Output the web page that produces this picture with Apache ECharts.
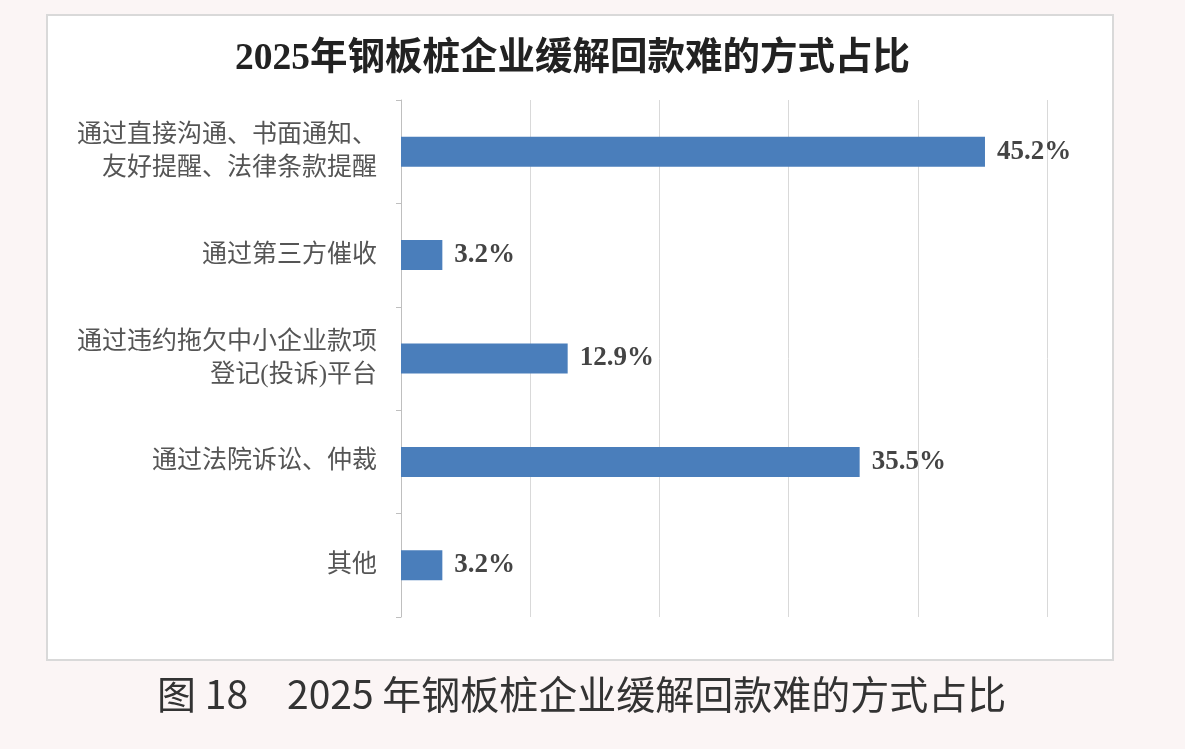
<!DOCTYPE html>
<html>
<head>
<meta charset="utf-8">
<title>2025年钢板桩企业缓解回款难的方式占比</title>
<script src="https://cdn.jsdelivr.net/npm/echarts@6/dist/echarts.min.js"></script>
<style>
	html,body{margin:0;padding:0;background:#fbf5f5;}
	#main{width:1185px;height:749px;}
</style>
</head>
<body>
<div id="main"></div>
<script>
// 数据
var categories = [
	'通过直接沟通、书面通知、\n友好提醒、法律条款提醒',
	'通过第三方催收',
	'通过违约拖欠中小企业款项\n登记(投诉)平台',
	'通过法院诉讼、仲裁',
	'其他'
];
var values = [45.2, 3.2, 12.9, 35.5, 3.2];
var axisMax = 50;
var axisStep = 10;

var chartTitle = '2025年钢板桩企业缓解回款难的方式占比';
var captionNo = '图 18';
var captionText = '2025 年钢板桩企业缓解回款难的方式占比';

var serif = '"Liberation Serif","Noto Sans CJK SC",serif';
var sans = '"Noto Sans CJK SC",sans-serif';

var myChart = echarts.init(document.getElementById('main'));
var option = {
	backgroundColor: '#fbf5f5',
	animation: false,
	graphic: [
		{
			type: 'rect',
			z: -10,
			shape: {x: 47, y: 15, width: 1066, height: 645},
			style: {fill: '#ffffff', stroke: '#d9d9d9', lineWidth: 2}
		}
	],
	title: [
		{
			text: chartTitle,
			left: 230,
			top: 36,
			textStyle: {fontFamily: serif, fontSize: 37.5, fontWeight: 'bold', color: '#222'}
		},
		{
			text: captionNo,
			left: 152,
			top: 670,
			textStyle: {fontFamily: sans, fontSize: 39, fontWeight: 'normal', color: '#333'}
		},
		{
			text: captionText,
			left: 282,
			top: 670,
			textStyle: {fontFamily: sans, fontSize: 39, fontWeight: 'normal', color: '#333'}
		}
	],
	grid: {
		left: 401,
		right: 138,
		top: 100,
		bottom: 132
	},
	xAxis: {
		type: 'value',
		min: 0,
		max: axisMax,
		interval: axisStep,
		axisLine: {show: false},
		axisTick: {show: false},
		axisLabel: {show: false},
		splitLine: {lineStyle: {color: '#d9d9d9', width: 1}}
	},
	yAxis: {
		type: 'category',
		inverse: true,
		data: categories,
		axisLine: {lineStyle: {color: '#bfbfbf', width: 1}},
		axisTick: {show: true, length: 5, lineStyle: {color: '#bfbfbf'}},
		axisLabel: {
			margin: 24,
			fontFamily: serif,
			fontSize: 25,
			lineHeight: 33,
			color: '#555',
			align: 'right'
		}
	},
	series: [
		{
			type: 'bar',
			data: values,
			barWidth: 30,
			itemStyle: {color: '#4a7ebb'},
			label: {
				show: true,
				position: 'right',
				distance: 12,
				formatter: '{c}%',
				fontFamily: serif,
				fontSize: 27,
				fontWeight: 'bold',
				color: '#444'
			}
		}
	]
};
myChart.setOption(option);
</script>
</body>
</html>
